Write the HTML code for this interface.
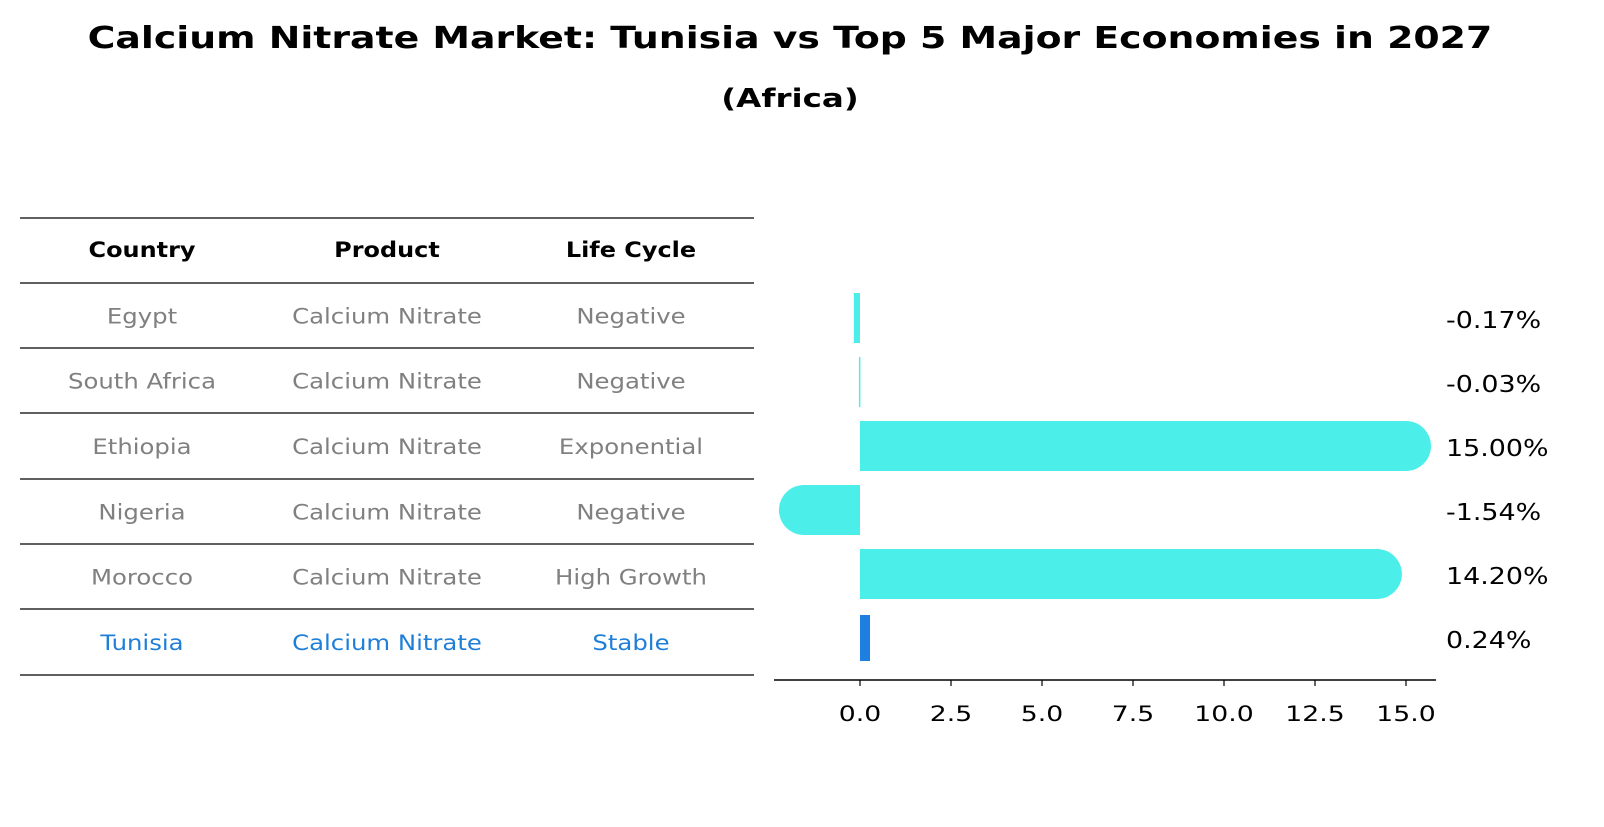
<!DOCTYPE html>
<html><head><meta charset="utf-8"><style>
body{margin:0;background:#fff;font-family:"DejaVu Sans","Liberation Sans",sans-serif;}
svg text{font-family:"DejaVu Sans","Liberation Sans",sans-serif;}
</style></head><body>
<svg width="1604" height="823" xmlns="http://www.w3.org/2000/svg">
<text x="790" y="48" text-anchor="middle" font-size="30" font-weight="bold" data-k="1.26">Calcium Nitrate Market: Tunisia vs Top 5 Major Economies in 2027</text>
<text x="790" y="107" text-anchor="middle" font-size="26" font-weight="bold" data-k="1.25">(Africa)</text>
<g id="table"></g>
<g id="bars"></g>
</svg>
<script>
const countries=["Egypt","South Africa","Ethiopia","Nigeria","Morocco","Tunisia"];
const products=["Calcium Nitrate","Calcium Nitrate","Calcium Nitrate","Calcium Nitrate","Calcium Nitrate","Calcium Nitrate"];
const lifeCycles=["Negative","Negative","Exponential","Negative","High Growth","Stable"];
const growth=[-0.17,-0.03,15.00,-1.54,14.20,0.24];
const ticks=[0,2.5,5,7.5,10,12.5,15];
const NS="http://www.w3.org/2000/svg";
function mk(p,t,a,txt){const e=document.createElementNS(NS,t);for(const k in a)e.setAttribute(k,a[k]);if(txt!==undefined)e.textContent=txt;p.appendChild(e);return e;}
const T=document.getElementById('table');
const colX=[142,387,631];
const lineY=[218,283,348,413,479,544,609,675];
lineY.forEach((y,i)=>{const l=mk(T,'line',{x1:20,x2:754,y1:y,y2:y,stroke:'#000','stroke-width':1.2});

});
["Country","Product","Life Cycle"].forEach((h,i)=>{const t=mk(T,'text',{x:colX[i],y:257,'text-anchor':'middle','font-size':21,'font-weight':'bold','data-k':1.14},h);

});
countries.forEach((c,r)=>{const y=(lineY[r+1]+lineY[r+2])/2+8;const col=r===countries.length-1?'#1f7fd8':'#808080';
[c,products[r],lifeCycles[r]].forEach((v,i)=>{const t=mk(T,'text',{x:colX[i],y:y,'text-anchor':'middle','font-size':21,fill:col,'data-k':1.16},v);

});});
const B=document.getElementById('bars');
const x0=860,ppu=(1406-860)/15;
const xs=v=>x0+v*ppu;
const yc=i=>318+i*64;
const bh=50;
const ax=mk(B,'line',{x1:774,x2:1436,y1:680,y2:680,stroke:'#000','stroke-width':1.5});


ticks.forEach(t=>{const l=mk(B,'line',{x1:xs(t),x2:xs(t),y1:680,y2:686,stroke:'#000','stroke-width':1.2});


const tx=mk(B,'text',{x:xs(t),y:721,'text-anchor':'middle','font-size':21,'data-k':1.27},t.toFixed(1));

});
growth.forEach((v,i)=>{const last=i===growth.length-1;const col=last?'#1f7fe0':'#4ceeea';
const xa=Math.min(xs(0),xs(v)),w=Math.max(Math.abs(xs(v)-xs(0)),last?10:1.5);
const r=mk(B,'rect',{x:last?xs(0):xa,y:yc(i)-bh/2+(last?2:0),width:w,height:last?bh-4:bh,fill:col});


if(Math.abs(v)>1){const c=mk(B,'circle',{cx:xs(v),cy:yc(i),r:bh/2,fill:col});

}
const lb=mk(B,'text',{x:1446,y:yc(i)+10,'font-size':23,'data-k':1.17},v.toFixed(2)+'%');

});
document.querySelectorAll('text[data-k]').forEach(t=>{const k=parseFloat(t.getAttribute('data-k'));const w=t.getComputedTextLength();if(w>0){t.setAttribute('textLength',(w*k).toFixed(1));t.setAttribute('lengthAdjust','spacingAndGlyphs');}});
</script>
</body></html>
